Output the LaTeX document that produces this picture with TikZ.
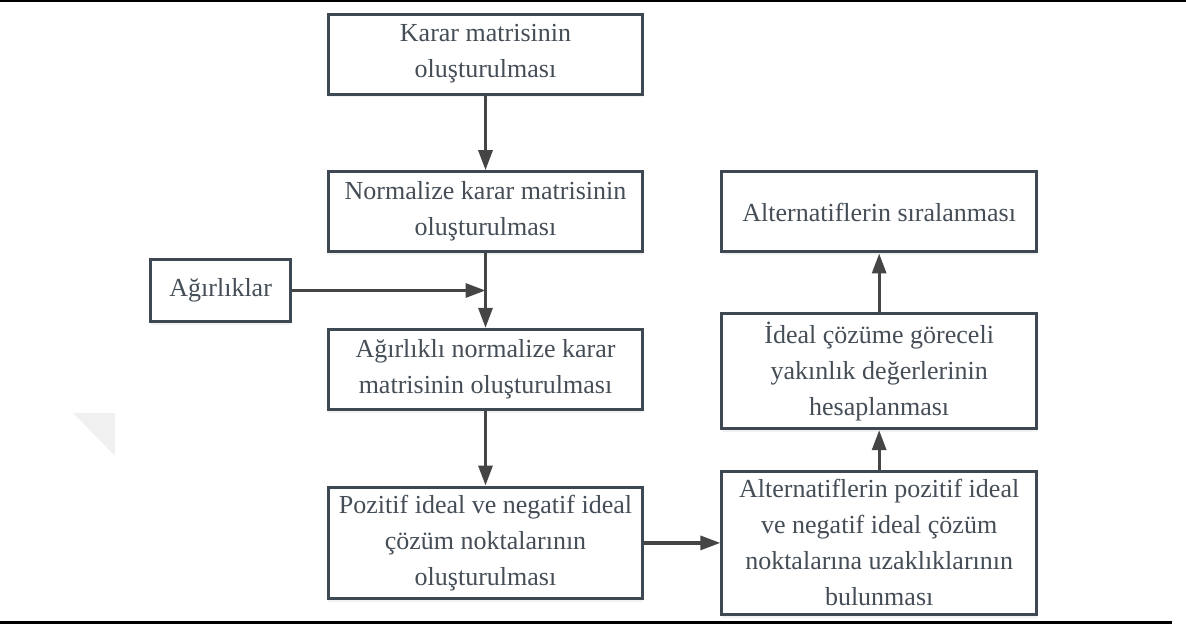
\documentclass[tikz,border=0pt]{standalone}
\usepackage{fontspec}
\setmainfont{Liberation Serif}
\usepackage{xcolor}
\usetikzlibrary{positioning,arrows.meta,shadows,calc}
\definecolor{boxline}{HTML}{3D4852}
\definecolor{boxtext}{HTML}{454E57}
\definecolor{arrowgray}{HTML}{454545}

\begin{document}
\begin{tikzpicture}[
x=0.75pt, y=-0.75pt,
node distance=56pt,
box/.style={draw=boxline, line width=2.25pt, fill=white, minimum width=236pt, minimum height=60pt, inner ysep=6pt, align=center, text=boxtext, font=\fontsize{19.5}{27}\selectfont, drop shadow={shadow xshift=0pt, shadow yshift=-2.5pt, opacity=0.1}},
arrow/.style={-{Triangle[length=15pt, width=10.5pt]}, line width=2.4pt, arrowgray}
]
\useasboundingbox (0,0) rectangle (1186,625);
\fill[gray!12] (73,413) -- (115,413) -- (115,456) -- cycle;
\draw[line width=2pt] (0,1) -- (1186,1);
\draw[line width=2.25pt] (0,622) -- (1172,622);

\node[box] (karar) at (485.5,54) {Karar matrisinin\\oluşturulması};
\node[box, below=of karar] (norm) {Normalize karar matrisinin\\oluşturulması};
\node[box, below=of norm] (agirlikli) {Ağırlıklı normalize karar\\matrisinin oluşturulması};
\node[box, below=of agirlikli] (ideal) {Pozitif ideal ve negatif ideal\\çözüm noktalarının\\oluşturulması};
\node[box, right=57pt of ideal] (uzaklik) {Alternatiflerin pozitif ideal\\ve negatif ideal çözüm\\noktalarına uzaklıklarının\\bulunması};
\node[box, above=30pt of uzaklik] (yakinlik) {İdeal çözüme göreceli\\yakınlık değerlerinin\\hesaplanması};
\node[box, above=44pt of yakinlik] (sira) {Alternatiflerin sıralanması};
\coordinate (birlesim) at ($(norm.south)!0.5!(agirlikli.north)$);
\node[box, minimum width=105pt, minimum height=46pt, left=145pt of birlesim] (agirlik) {Ağırlıklar};

\draw[arrow] (karar) -- (norm);
\draw[arrow] (norm) -- (agirlikli);
\draw[arrow] (agirlik) -- (birlesim);
\draw[arrow] (agirlikli) -- (ideal);
\draw[arrow] (ideal) -- (uzaklik);
\draw[arrow] (uzaklik) -- (yakinlik);
\draw[arrow] (yakinlik) -- (sira);
\end{tikzpicture}
\end{document}
